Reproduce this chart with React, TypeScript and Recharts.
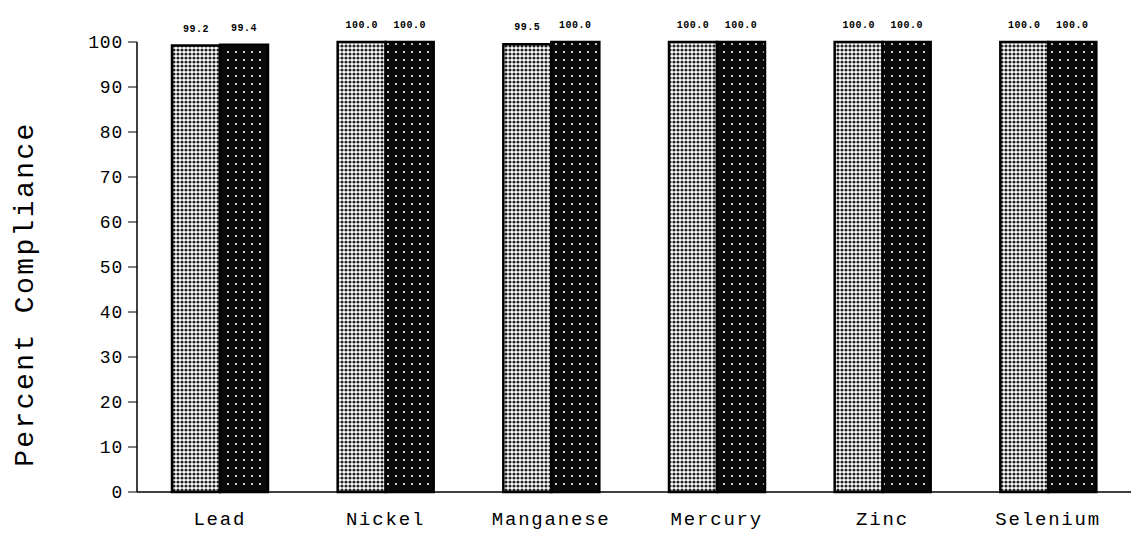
import React from 'react';
import { BarChart, Bar, XAxis, YAxis, LabelList } from 'recharts';

const categories = ['Lead', 'Nickel', 'Manganese', 'Mercury', 'Zinc', 'Selenium'];
const seriesA = [99.2, 100.0, 99.5, 100.0, 100.0, 100.0];
const seriesB = [99.4, 100.0, 100.0, 100.0, 100.0, 100.0];
const yTicks = [0, 10, 20, 30, 40, 50, 60, 70, 80, 90, 100];

const data = categories.map((c, i) => ({ name: c, a: seriesA[i], b: seriesB[i] }));

const FONT = '"Liberation Mono", "Courier New", monospace';

export default function App() {
  return (
    <div style={{ position: 'absolute', left: 0, top: 0, background: '#fff' }}>
      <BarChart
        width={1131}
        height={533}
        data={data}
        margin={{ top: 42, right: 0, bottom: 0, left: 0 }}
        barGap={0}
        barSize={48}
      >
        <defs>
          <pattern id="lightDots" width="4" height="4" patternUnits="userSpaceOnUse">
            <rect width="4" height="4" fill="#ffffff" />
            <circle cx="2" cy="2" r="1.6" fill="#222" />
          </pattern>
          <pattern id="darkDots" width="8" height="8" patternUnits="userSpaceOnUse">
            <rect width="8" height="8" fill="#0a0a0a" />
            <circle cx="4" cy="4" r="1.1" fill="#ffffff" />
          </pattern>
        </defs>
        <XAxis
          dataKey="name"
          height={41}
          axisLine={{ stroke: '#000', strokeWidth: 1.5 }}
          tickLine={false}
          tick={{ fill: '#000', fontSize: 19, fontFamily: FONT, letterSpacing: 1.8 }}
          tickMargin={14}
        />
        <YAxis
          width={137}
          domain={[0, 100]}
          ticks={yTicks}
          interval={0}
          axisLine={{ stroke: '#000', strokeWidth: 1.5 }}
          tickLine={{ stroke: '#000' }}
          tickSize={9}
          tickMargin={5}
          tick={{ fill: '#000', fontSize: 18, fontFamily: FONT, letterSpacing: 0.8 }}
          label={{
            value: 'Percent Compliance',
            angle: -90,
            position: 'insideLeft',
            dx: 18,
            dy: 27,
            style: { fill: '#000', fontSize: 28, fontFamily: FONT, letterSpacing: 2.4, textAnchor: 'middle' },
          }}
        />
        <Bar dataKey="a" fill="url(#lightDots)" stroke="#000" strokeWidth={2.5} isAnimationActive={false}>
          <LabelList
            dataKey="a"
            position="top"
            offset={14}
            formatter={(v: number) => v.toFixed(1)}
            style={{ fill: '#000', fontSize: 10, fontWeight: 'bold', fontFamily: FONT, letterSpacing: 0.5 }}
          />
        </Bar>
        <Bar dataKey="b" fill="url(#darkDots)" stroke="#000" strokeWidth={2.5} isAnimationActive={false}>
          <LabelList
            dataKey="b"
            position="top"
            offset={14}
            formatter={(v: number) => v.toFixed(1)}
            style={{ fill: '#000', fontSize: 10, fontWeight: 'bold', fontFamily: FONT, letterSpacing: 0.5 }}
          />
        </Bar>
      </BarChart>
    </div>
  );
}
